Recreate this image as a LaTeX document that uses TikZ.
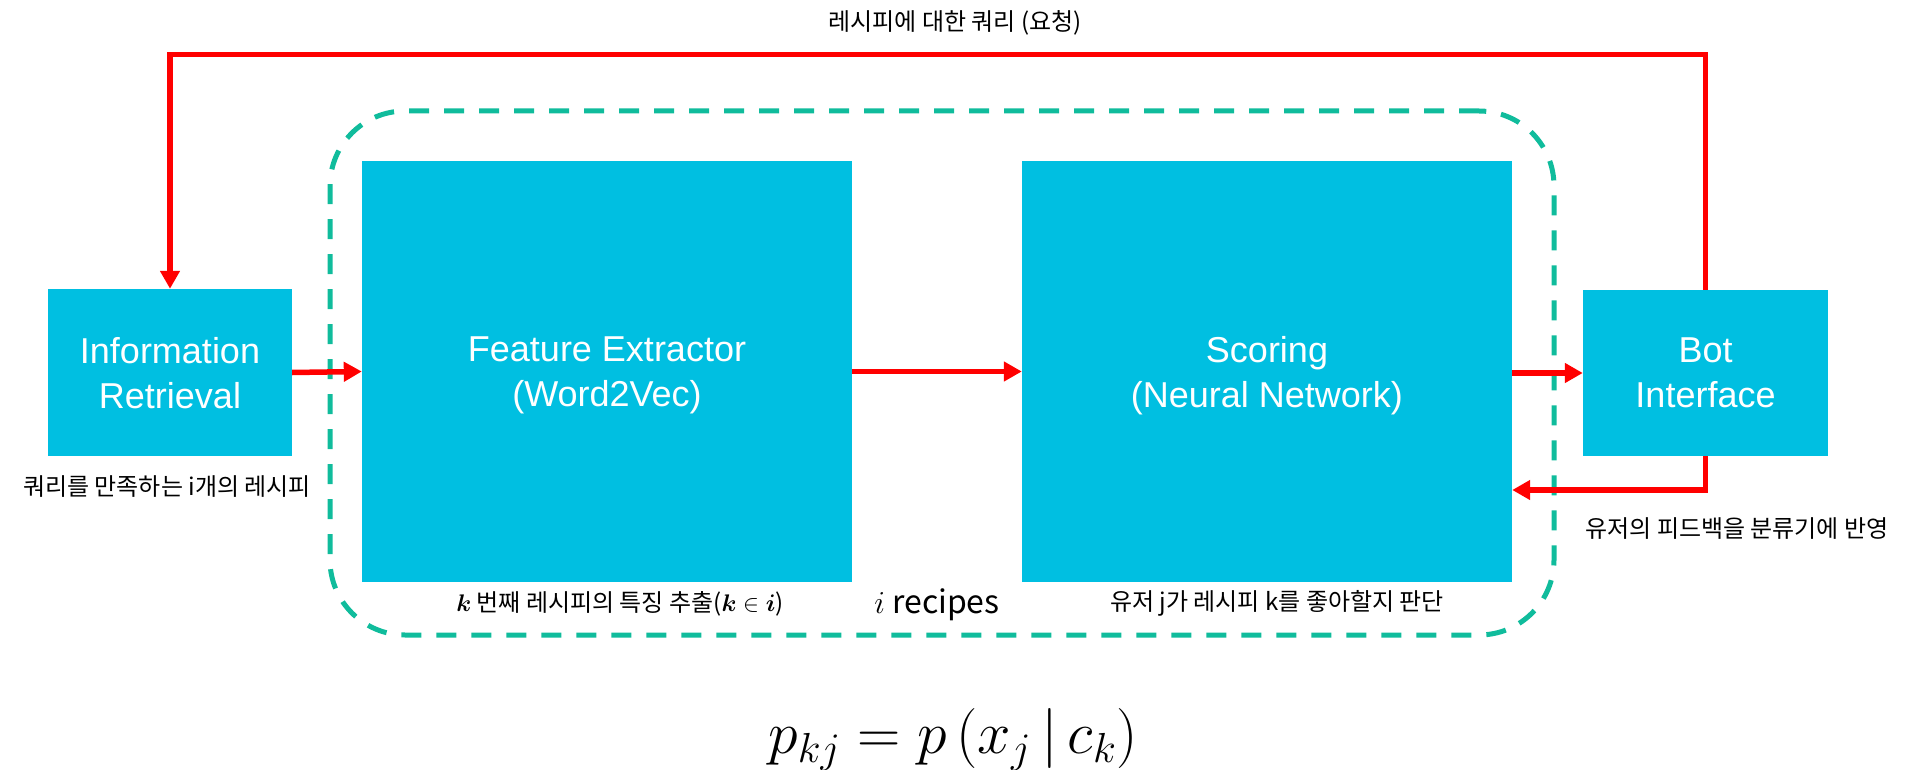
\RequirePackage{fix-cm}
\documentclass[tikz,border=0pt]{standalone}
\usepackage{amsmath,amssymb}
\usepackage{fontspec}
\setmainfont{Noto Sans CJK KR}
\newfontfamily\boxfont{Liberation Sans}
\usepackage{tikz}
\usetikzlibrary{arrows.meta, calc}

\definecolor{boxcyan}{RGB}{0,191,225}
\definecolor{groupteal}{RGB}{16,188,156}
\definecolor{flowred}{RGB}{255,0,0}

\begin{document}
\begin{tikzpicture}[x=1pt, y=-1pt,
    block/.style={fill=boxcyan, inner sep=0pt, text=white, align=center, text depth=-8pt,
        font=\boxfont\fontsize{36}{45}\selectfont},
    redarrow/.style={draw=flowred, line width=5.5pt, -{Triangle[length=18pt, width=19pt]}},
    note/.style={inner sep=0pt, font=\fontsize{24}{29}\selectfont}]

        \useasboundingbox (0,0) rectangle (1931,770);

        % ==========================================
        % 1. Group of the two inner stages
        % ==========================================
        \node[draw=groupteal, line width=5pt, dash pattern=on 20pt off 15pt,
              rounded corners=75pt, minimum width=1224pt, minimum height=524pt,
              inner sep=0pt] (grp) at (942,373) {};

        % ==========================================
        % 2. Blocks
        % ==========================================
        \node[block, minimum width=244pt, minimum height=167pt] (ir) at (170,372.5) {Information\\Retrieval};
        \node[block, minimum width=490pt, minimum height=421pt] (fe) at (607,371.5) {Feature Extractor\\(Word2Vec)};
        \node[block, minimum width=490pt, minimum height=421pt] (sc) at (1267,371.5) {Scoring\\(Neural Network)};
        \node[block, minimum width=245pt, minimum height=166pt] (bi) at (1705.5,373) {Bot\\Interface};

        % ==========================================
        % 3. Labels
        % ==========================================
        \node[note] (qlabel) at (955,23) {레시피에 대한 쿼리 (요청)};
        \node[note] (irlabel) at (167,487) {쿼리를 만족하는 i개의 레시피};
        \node[note] (fblabel) at (1737,529) {유저의 피드백을 분류기에 반영};
        \node[note] (felabel) at (620,604) {$\boldsymbol{k}$ 번째 레시피의 특징 추출($\boldsymbol{k}\in\boldsymbol{i}$)};
        \node[note] (sclabel) at (1277,603) {유저 j가 레시피 k를 좋아할지 판단};
        \node[inner sep=0pt, font=\fontsize{32}{38}\selectfont] (grplabel) at (937,605) {$i$ recipes};

        % 하단 수식
        \node[inner sep=0pt, font=\fontsize{60}{66}\selectfont] (formula) at (953,740)
            {$p_{kj} = p\left(x_j \,\middle|\, c_k\right)$};

        % ==========================================
        % 4. Connectors
        % ==========================================
        \coordinate (qline) at (0,54.5);
        \coordinate (fbline) at (0,490);

        \draw[redarrow] (bi.north) |- (qline -| ir.north) -- (ir.north);
        \draw[redarrow] (ir.east) -- (fe.west);
        \draw[redarrow] (fe.east) -- (sc.west);
        \draw[redarrow] (sc.east |- bi.west) -- (bi.west);
        \draw[redarrow] (bi.south) |- (sc.east |- fbline);

\end{tikzpicture}
\end{document}
